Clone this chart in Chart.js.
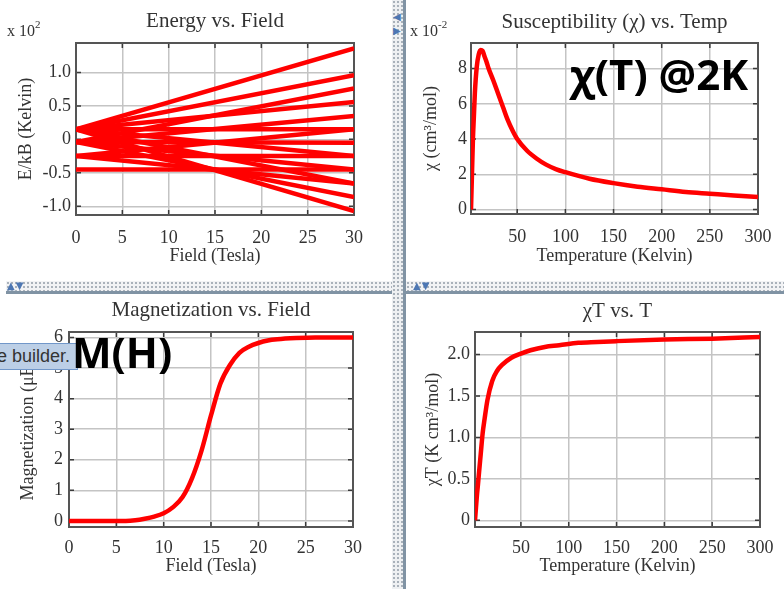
<!DOCTYPE html>
<html>
<head>
<meta charset="utf-8">
<script src="https://cdn.jsdelivr.net/npm/chart.js@4.4.1/dist/chart.umd.min.js"></script>
<style>
  body { margin: 0; background: #fff; }
  #page { position: relative; width: 784px; height: 589px; overflow: hidden; background: #fff; }
  canvas { position: absolute; }
  .mult { position: absolute; font-family: "Liberation Serif", serif; font-size: 16px; line-height: 16px; color: #333; z-index: 3; }
  .mult sup { font-size: 11px; vertical-align: 0; position: relative; top: -8px; }
  .vbar { position: absolute; left: 392px; top: 0; width: 11px; height: 589px; background-color: #eef0f2;
          background-image: radial-gradient(#a9b1ba 0.9px, transparent 1.2px); background-size: 4px 4px; z-index: 4; }
  .vline { position: absolute; left: 403px; top: 0; width: 3px; height: 589px; background: #8093a4; z-index: 4; }
  .hbar { position: absolute; top: 281px; height: 10px; background-color: #f2f3f5;
          background-image: radial-gradient(#aab2bb 0.9px, transparent 1.2px); background-size: 4px 4px; z-index: 4; }
  .hline { position: absolute; top: 291px; height: 3px; background: #8093a4; z-index: 4; }
  .arrows { position: absolute; font-family: "DejaVu Sans", sans-serif; font-size: 10px; line-height: 10px; color: #4d77b3; z-index: 5; letter-spacing: 1px; }
  .big { position: absolute; font-family: "Open Sans", sans-serif; font-weight: 700; font-size: 42px; line-height: 42px; color: #000; z-index: 6; white-space: nowrap; }
  .tip { position: absolute; left: 0; top: 343px; width: 77px; height: 25px; background: #bccfe6; border: 1px solid #7197c9; border-left: none;
         overflow: hidden; z-index: 5; font-family: "Liberation Sans", sans-serif; font-size: 18px; line-height: 25px; color: #333; white-space: nowrap; }
  .tip span { position: relative; left: -3px; }
</style>
</head>
<body>
<div id="page">
  <canvas id="energy" width="392" height="280" style="left:0;top:0"></canvas>
  <canvas id="chi" width="377" height="280" style="left:407px;top:0"></canvas>
  <canvas id="mag" width="392" height="294" style="left:0;top:295px"></canvas>
  <canvas id="chiT" width="377" height="294" style="left:407px;top:295px"></canvas>

  <div class="mult" style="left:7px;top:23px">x 10<sup>2</sup></div>
  <div class="mult" style="left:410px;top:23px">x 10<sup>-2</sup></div>

  <div class="vbar"></div>
  <div class="vline"></div>
  <div class="hbar" style="left:6px;width:386px"></div>
  <div class="hline" style="left:6px;width:386px"></div>
  <div class="hbar" style="left:406px;width:378px"></div>
  <div class="hline" style="left:406px;width:378px"></div>
  <div class="arrows" style="left:7px;top:281px">▲▼</div>
  <div class="arrows" style="left:413px;top:281px">▲▼</div>
  <div class="arrows" style="left:393px;top:10px;line-height:14px">◀<br>▶</div>

  <div class="tip"><span>e builder.</span></div>
  <div class="big" style="left:72px;top:331px">M(H)</div>
  <div class="big" style="left:570px;top:53px">χ(T) @2K</div>
</div>

<script>
// energy levels, straight lines read at both ends of the field range (units of 10^2 K)
const energyField = [0, 30];
const energyAtZero = [0.15, 0.15, 0.15, 0.15, 0.15, 0.15, 0.15, -0.04, -0.04, -0.04, -0.04, -0.04, -0.25, -0.25, -0.25, -0.45];
const energyAtThirty = [1.36, 0.96, 0.56, 0.15, -0.25, -0.66, -1.07, 0.76, 0.35, -0.05, -0.45, -0.86, 0.15, -0.25, -0.66, -0.45];

// susceptibility (units of 10^-2 cm3/mol)
const chiTemp = [2, 3, 4, 5, 6, 8, 10, 12, 14, 16, 18, 20, 25, 30, 35, 40, 45, 50, 60, 70, 80, 90, 100, 125, 150, 175, 200, 225, 250, 275, 300];
const chiValue = [0, 2.0, 4.0, 5.3, 6.6, 8.1, 8.8, 9.05, 9.0, 8.7, 8.4, 8.05, 7.35, 6.6, 5.85, 5.1, 4.5, 4.0, 3.35, 2.9, 2.55, 2.3, 2.12, 1.75, 1.5, 1.3, 1.15, 1.0, 0.9, 0.8, 0.72];

// magnetization
const magField = [0, 2, 4, 6, 7, 8, 9, 10, 11, 12, 13, 14, 15, 16, 17, 18, 19, 20, 21, 22, 24, 26, 28, 30];
const magValue = [0, 0, 0, 0, 0.02, 0.07, 0.14, 0.25, 0.45, 0.78, 1.4, 2.3, 3.45, 4.5, 5.1, 5.5, 5.7, 5.82, 5.9, 5.94, 5.98, 6.0, 6.0, 6.0];

// chi*T
const chiTTemp = [2, 3, 4, 5, 6, 8, 10, 12, 15, 20, 25, 30, 40, 50, 60, 75, 90, 110, 130, 150, 200, 250, 300];
const chiTValue = [0, 0.15, 0.3, 0.42, 0.55, 0.8, 1.05, 1.22, 1.45, 1.68, 1.8, 1.87, 1.96, 2.01, 2.05, 2.09, 2.11, 2.14, 2.15, 2.16, 2.18, 2.19, 2.21];

// tick values
const fieldTicks = [0, 5, 10, 15, 20, 25, 30];
const tempTicks = [50, 100, 150, 200, 250, 300];
const energyTicks = [-1.0, -0.5, 0, 0.5, 1.0];
const chiTicks = [0, 2, 4, 6, 8];
const magTicks = [0, 1, 2, 3, 4, 5, 6];
const chiTTicks = [0, 0.5, 1.0, 1.5, 2.0];

const SERIF = '"Liberation Serif", "Times New Roman", serif';
const RED = '#ff0000';
const TEXT = '#333';

function toPoints(xs, ys) {
  return xs.map((x, i) => ({x: x, y: ys[i]}));
}

function redLine(points, smooth) {
  return {
    data: points,
    borderColor: RED,
    borderWidth: 4.5,
    pointRadius: 0,
    fill: false,
    cubicInterpolationMode: smooth ? 'monotone' : 'default',
    tension: 0
  };
}

// plot frame and the short inward tick marks on all four sides
const frame = {
  id: 'frame',
  beforeDatasetsDraw(chart) {
    const {ctx, chartArea: a, scales} = chart;
    const len = 5;
    ctx.save();
    ctx.strokeStyle = '#3a3a3a';
    ctx.lineWidth = 1.5;
    scales.x.ticks.forEach(t => {
      const px = scales.x.getPixelForValue(t.value);
      if (px <= a.left + 1 || px >= a.right - 1) return;
      ctx.beginPath();
      ctx.moveTo(px, a.bottom); ctx.lineTo(px, a.bottom - len);
      ctx.moveTo(px, a.top); ctx.lineTo(px, a.top + len);
      ctx.stroke();
    });
    scales.y.ticks.forEach(t => {
      const py = scales.y.getPixelForValue(t.value);
      if (py <= a.top + 1 || py >= a.bottom - 1) return;
      ctx.beginPath();
      ctx.moveTo(a.left, py); ctx.lineTo(a.left + len, py);
      ctx.moveTo(a.right, py); ctx.lineTo(a.right - len, py);
      ctx.stroke();
    });
    ctx.strokeStyle = '#555';
    ctx.lineWidth = 2;
    ctx.strokeRect(a.left, a.top, a.right - a.left, a.bottom - a.top);
    ctx.restore();
  }
};

function decimalTick(v) {
  return v === 0 ? '0' : v.toFixed(1);
}

function makePanel(id, p) {
  return new Chart(document.getElementById(id), {
    type: 'line',
    data: {datasets: p.datasets},
    options: {
      responsive: false,
      animation: false,
      events: [],
      layout: {padding: {left: 0, top: 0, right: p.padRight, bottom: 0}},
      plugins: {
        legend: {display: false},
        tooltip: {enabled: false},
        title: {
          display: true,
          text: p.title,
          fullSize: false,
          color: TEXT,
          font: {family: SERIF, size: 21, weight: 'normal'},
          padding: {top: p.titleTop, bottom: p.titleBottom}
        }
      },
      scales: {
        x: {
          type: 'linear',
          min: p.xMin, max: p.xMax,
          grid: {color: '#c4c4c4', lineWidth: 1.5, drawTicks: false},
          border: {display: false},
          ticks: {autoSkip: false, maxRotation: 0,
                  padding: p.xTickPad, color: TEXT, font: {family: SERIF, size: 18},
                  callback: v => String(v)},
          title: {display: true, text: p.xTitle, color: TEXT, font: {family: SERIF, size: 18},
                  padding: {top: 0, bottom: p.xTitleBottom}},
          afterBuildTicks: s => { s.ticks = p.xTicks.map(v => ({value: v})); },
          afterFit: s => { s.height = p.xHeight; }
        },
        y: {
          type: 'linear',
          min: p.yMin, max: p.yMax,
          grid: {color: '#c4c4c4', lineWidth: 1.5, drawTicks: false},
          border: {display: false},
          ticks: {autoSkip: false,
                  padding: p.yTickPad, color: TEXT, font: {family: SERIF, size: 18},
                  callback: p.yFormat || (v => String(v))},
          title: {display: true, text: p.yTitle, color: TEXT, font: {family: SERIF, size: 18},
                  padding: {top: p.yTitleTop, bottom: 0}},
          afterBuildTicks: s => { s.ticks = p.yTicks.map(v => ({value: v})); },
          afterFit: s => { s.width = p.yWidth; }
        }
      }
    },
    plugins: [frame]
  });
}

const energySets = energyAtZero.map((e0, i) =>
  redLine(toPoints(energyField, [e0, energyAtThirty[i]]), false));

makePanel('energy', {
  datasets: energySets,
  title: 'Energy vs. Field', titleTop: 8.4, titleBottom: 9.4,
  padRight: 38,
  xMin: 0, xMax: 30, xTicks: fieldTicks, xTickPad: 12.2, xTitle: 'Field (Tesla)', xTitleBottom: 13.2, xHeight: 65,
  yMin: -1.13, yMax: 1.44, yTicks: energyTicks, yTickPad: 5, yTitle: 'E/kB (Kelvin)', yTitleTop: 15.9, yWidth: 76,
  yFormat: decimalTick
});

makePanel('chi', {
  datasets: [redLine(toPoints(chiTemp, chiValue), true)],
  title: 'Susceptibility (χ) vs. Temp', titleTop: 9.4, titleBottom: 8.4,
  padRight: 16,
  xMin: 2, xMax: 300, xTicks: tempTicks, xTickPad: 12.5, xTitle: 'Temperature (Kelvin)', xTitleBottom: 13.2, xHeight: 66,
  yMin: -0.25, yMax: 9.45, yTicks: chiTicks, yTickPad: 4, yTitle: 'χ (cm³/mol)', yTitleTop: 13.9, yWidth: 64
});

makePanel('mag', {
  datasets: [redLine(toPoints(magField, magValue), true)],
  title: 'Magnetization vs. Field', titleTop: 3.1, titleBottom: 8.7,
  padRight: 39,
  xMin: 0, xMax: 30, xTicks: fieldTicks, xTickPad: 10.5, xTitle: 'Field (Tesla)', xTitleBottom: 11.5, xHeight: 62,
  yMin: -0.2, yMax: 6.18, yTicks: magTicks, yTickPad: 6, yTitle: 'Magnetization (μB)', yTitleTop: 17.5, yWidth: 69
});

makePanel('chiT', {
  datasets: [redLine(toPoints(chiTTemp, chiTValue), true)],
  title: 'χT vs. T', titleTop: 4.1, titleBottom: 7.7,
  padRight: 17,
  xMin: 2, xMax: 300, xTicks: tempTicks, xTickPad: 10.5, xTitle: 'Temperature (Kelvin)', xTitleBottom: 11.5, xHeight: 62,
  yMin: -0.08, yMax: 2.27, yTicks: chiTTicks, yTickPad: 5, yTitle: 'χT (K cm³/mol)', yTitleTop: 15.5, yWidth: 68,
  yFormat: decimalTick
});
</script>
</body>
</html>
